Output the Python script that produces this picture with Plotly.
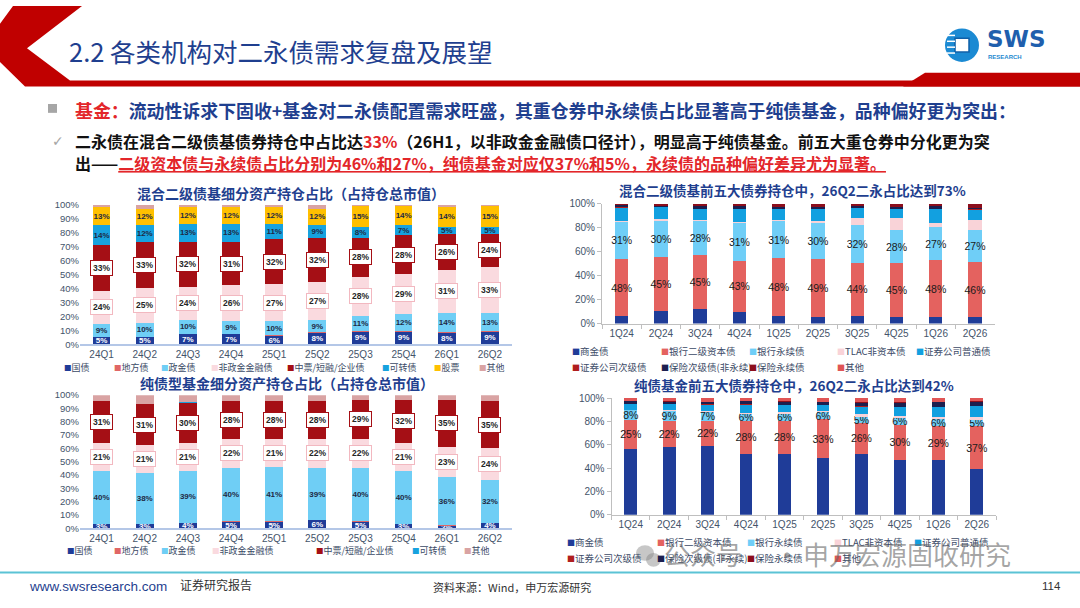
import plotly.graph_objects as go

W, H = 1080, 608
def px(x): return x / W
def py(y): return 1 - y / H

CJK = "Noto Sans CJK SC"
LAT = "Liberation Sans"

# ---------------- data ----------------
quarters_l = ["24Q1", "24Q2", "24Q3", "24Q4", "25Q1", "25Q2", "25Q3", "25Q4", "26Q1", "26Q2"]
quarters_r = ["1Q24", "2Q24", "3Q24", "4Q24", "1Q25", "2Q25", "3Q25", "4Q25", "1Q26", "2Q26"]

# 混合二级债基细分资产持仓占比 (%)
mix_gov    = [5, 5, 7, 7, 6, 8, 9, 9, 8, 9]
mix_local  = [0.4, 0.4, 0.4, 0.4, 0.4, 0.4, 0.4, 0.4, 0.4, 0.4]
mix_policy = [9, 10, 10, 9, 10, 9, 11, 12, 14, 13]
mix_fin    = [24, 25, 24, 26, 27, 27, 28, 29, 31, 33]
mix_corp   = [33, 33, 32, 31, 32, 32, 28, 28, 26, 24]
mix_cb     = [14, 12, 13, 13, 11, 9, 8, 7, 5, 5]
mix_stock  = [13, 12, 12, 12, 12, 12, 15, 14, 14, 15]
mix_other  = [1.6, 2.6, 1.6, 1.6, 1.6, 2.6, 0.6, 0.6, 1.6, 0.6]

# 纯债型基金细分资产持仓占比 (%)
pure_gov    = [3, 3, 4, 5, 5, 6, 5, 3, 2, 4]
pure_local  = [0.3, 0.3, 0.3, 0.3, 0.3, 0.3, 0.3, 0.3, 0.3, 0.3]
pure_policy = [40, 38, 39, 40, 41, 39, 40, 40, 36, 32]
pure_fin    = [21, 21, 21, 22, 21, 22, 22, 21, 23, 24]
pure_corp   = [31, 31, 30, 28, 28, 28, 29, 32, 35, 35]
pure_cb     = [0.3, 0.3, 0.3, 0.3, 0.3, 0.3, 0.3, 0.3, 0.3, 0.3]
pure_other  = [4.4, 6.4, 5.4, 4.4, 4.4, 4.4, 3.4, 3.4, 3.4, 4.4]

# 混合二级债基前五大债券持仓 (%)
mt_comm    = [6.0, 10.9, 12.3, 9.5, 6.5, 5.2, 6.5, 5.2, 5.2, 5.2]
mt_t2      = [48, 45, 45, 43, 48, 49, 44, 45, 48, 46]
mt_perp    = [31, 30, 28, 31, 31, 30, 32, 28, 27, 27]
mt_tlac    = [0.6, 1.0, 1.2, 1.6, 1.2, 1.6, 5.6, 9.8, 4.0, 8.6]
mt_sec     = [11.2, 10.0, 9.0, 10.2, 8.8, 9.8, 8.2, 7.4, 11.3, 8.2]
mt_secsub  = [0.4, 0.3, 0.4, 0.4, 0.4, 0.4, 0.3, 0.3, 0.3, 0.3]
mt_inssub  = [1.5, 1.3, 2.0, 2.1, 1.6, 1.5, 1.4, 1.6, 2.0, 1.0]
mt_insperp = [1.0, 1.2, 1.8, 2.0, 2.0, 2.2, 1.7, 2.4, 2.0, 3.5]
mt_other   = [0.3, 0.3, 0.3, 0.2, 0.5, 0.3, 0.3, 0.3, 0.2, 0.2]

# 纯债基金前五大债券持仓 (%)
pt_comm    = [56.6, 58.0, 58.8, 52.4, 52.4, 48.7, 52.4, 47.3, 46.8, 38.9]
pt_t2      = [25, 22, 22, 28, 28, 33, 26, 30, 29, 37]
pt_perp    = [8, 9, 7, 6, 6, 6, 5, 6, 6, 5]
pt_tlac    = [0.5, 1.0, 0.8, 1.2, 1.5, 1.0, 2.6, 1.3, 2.2, 2.8]
pt_sec     = [4.5, 5.0, 5.7, 6.8, 5.8, 5.3, 6.8, 7.6, 8.2, 9.3]
pt_secsub  = [0.3, 0.3, 0.3, 0.3, 0.3, 0.3, 0.3, 0.3, 0.3, 0.3]
pt_inssub  = [2.3, 1.5, 2.0, 2.4, 2.8, 2.3, 3.0, 3.6, 3.8, 3.5]
pt_insperp = [0.3, 0.3, 0.3, 0.3, 0.3, 0.3, 0.3, 0.3, 0.3, 0.3]
pt_other   = [2.5, 2.9, 3.1, 2.6, 2.9, 3.1, 3.6, 3.6, 3.4, 2.9]

# ---------------- styles ----------------
C_GOV, C_LOCAL, C_POLICY, C_FIN = "#1F3C98", "#E06666", "#6FCEF5", "#FADADF"
C_CORP, C_CB, C_STOCK, C_OTHER_L = "#A50F15", "#17A2DE", "#FFC000", "#D9A3A3"
C_COMM, C_T2, C_PERP, C_TLAC, C_SEC = "#1F3C98", "#E4625F", "#6FCEF7", "#F9D3D8", "#12A0E0"
C_SECSUB, C_INSSUB, C_INSPERP, C_OTHER_R = "#B01E1E", "#1C1F4F", "#8C0E1C", "#E05555"
TICKC = "#44546A"
TITLEC = "#1F3F8F"

fig = go.Figure()
annotations = []

def lbl(v):
    return f"{round(v)}%"

def add_stack(series, xs, axis, width, textsize=8, bold=True, textcolor="#1F2A44"):
    base = [0.0] * len(xs)
    xa, ya = axis
    for name, vals, color, mode in series:
        text = None
        tcolor = textcolor
        if mode in ("plain", "plain_w"):
            text = [lbl(v) for v in vals]
            if mode == "plain_w":
                tcolor = "white"
        tf = dict(size=textsize, color=tcolor, family=LAT)
        if bold:
            tf["weight"] = "bold"
        fig.add_trace(go.Bar(
            x=xs, y=vals, name=name, marker=dict(color=color, line=dict(width=0)),
            width=width, xaxis=xa, yaxis=ya,
            text=text, textposition="inside" if text else "none",
            insidetextanchor="middle", textangle=0, constraintext="none",
            textfont=tf, hoverinfo="skip", showlegend=False,
        ))
        if mode in ("box_pink", "box_red"):
            for i, v in enumerate(vals):
                annotations.append(dict(
                    x=xs[i], y=base[i] + v / 2, xref=xa, yref=ya,
                    text=f"<b>{lbl(v)}</b>", showarrow=False,
                    font=dict(size=8.5, color="#262626", family=LAT),
                    bgcolor="white",
                    bordercolor="#F2B8C0" if mode == "box_pink" else "#A50F15",
                    borderwidth=1, borderpad=2,
                ))
        base = [b + v for b, v in zip(base, vals)]

add_stack([
    ("国债", mix_gov, C_GOV, "plain_w"),
    ("地方债", mix_local, C_LOCAL, None),
    ("政金债", mix_policy, C_POLICY, "plain"),
    ("非政金金融债", mix_fin, C_FIN, "box_pink"),
    ("中票/短融/企业债", mix_corp, C_CORP, "box_red"),
    ("可转债", mix_cb, C_CB, "plain"),
    ("股票", mix_stock, C_STOCK, "plain"),
    ("其他", mix_other, C_OTHER_L, None),
], quarters_l, ("x", "y"), 0.41)

add_stack([
    ("国债", pure_gov, C_GOV, "plain_w"),
    ("地方债", pure_local, C_LOCAL, None),
    ("政金债", pure_policy, C_POLICY, "plain"),
    ("非政金金融债", pure_fin, C_FIN, "box_pink"),
    ("中票/短融/企业债", pure_corp, C_CORP, "box_red"),
    ("可转债", pure_cb, C_CB, None),
    ("其他", pure_other, C_OTHER_L, None),
], quarters_l, ("x2", "y2"), 0.41)

add_stack([
    ("商金债", mt_comm, C_COMM, None),
    ("银行二级资本债", mt_t2, C_T2, "plain"),
    ("银行永续债", mt_perp, C_PERP, "plain"),
    ("TLAC非资本债", mt_tlac, C_TLAC, None),
    ("证券公司普通债", mt_sec, C_SEC, None),
    ("证券公司次级债", mt_secsub, C_SECSUB, None),
    ("保险次级债(非永续)", mt_inssub, C_INSSUB, None),
    ("保险永续债", mt_insperp, C_INSPERP, None),
    ("其他", mt_other, C_OTHER_R, None),
], quarters_r, ("x3", "y3"), 0.34, textsize=10.5, bold=False, textcolor="#1a1a1a")

add_stack([
    ("商金债", pt_comm, C_COMM, None),
    ("银行二级资本债", pt_t2, C_T2, "plain"),
    ("银行永续债", pt_perp, C_PERP, "plain"),
    ("TLAC非资本债", pt_tlac, C_TLAC, None),
    ("证券公司普通债", pt_sec, C_SEC, None),
    ("证券公司次级债", pt_secsub, C_SECSUB, None),
    ("保险次级债(非永续)", pt_inssub, C_INSSUB, None),
    ("保险永续债", pt_insperp, C_INSPERP, None),
    ("其他", pt_other, C_OTHER_R, None),
], quarters_r, ("x4", "y4"), 0.33, textsize=10.5, bold=False, textcolor="#1a1a1a")

# ---------------- axes ----------------
def left_axes(xdom, ydom, anchor_x, anchor_y):
    xa = dict(domain=xdom, anchor=anchor_y, type="category", showline=True,
              linecolor="#B4C7E7", linewidth=1.5, ticks="", showgrid=False,
              tickfont=dict(size=10, color=TICKC, family=LAT), fixedrange=True)
    ya = dict(domain=ydom, anchor=anchor_x, range=[0, 100], dtick=10, ticksuffix="%",
              showgrid=False, zeroline=False, showline=False,
              tickfont=dict(size=9.5, color=TICKC, family=LAT), fixedrange=True)
    return xa, ya

def right_axes(xdom, ydom, anchor_x, anchor_y):
    xa = dict(domain=xdom, anchor=anchor_y, type="category", showline=True,
              linecolor="#BFBFBF", linewidth=1, ticks="outside", tickson="boundaries",
              ticklen=4, tickcolor="#BFBFBF", showgrid=False,
              tickfont=dict(size=10, color=TICKC, family=LAT), fixedrange=True)
    ya = dict(domain=ydom, anchor=anchor_x, range=[0, 100], dtick=20, ticksuffix="%",
              showgrid=False, zeroline=False, showline=True, linecolor="#BFBFBF",
              ticks="outside", ticklen=4, tickcolor="#BFBFBF",
              tickfont=dict(size=10, color=TICKC, family=LAT), fixedrange=True)
    return xa, ya

x1, y1 = left_axes([px(80), px(511.5)], [py(345), py(203)], "x", "y")
x2, y2 = left_axes([px(80), px(511.5)], [py(533), py(397)], "x2", "y2")
x3, y3 = right_axes([px(602), px(994.6)], [py(324), py(201.7)], "x3", "y3")
x4, y4 = right_axes([px(611.5), px(996)], [py(519), py(400)], "x4", "y4")

# ---------------- text ----------------
def txt(x, y, text, size, color="#000", family=CJK, xanchor="left", yanchor="middle", **kw):
    annotations.append(dict(x=px(x), y=py(y), xref="paper", yref="paper", text=text,
                            showarrow=False, xanchor=xanchor, yanchor=yanchor,
                            font=dict(size=size, color=color, family=family), **kw))

txt(67, 45, "2.2 各类机构对二永债需求复盘及展望", 25.5, TITLEC)
txt(985, 34, "<b>SWS</b>", 23, "#1F5FAD", family="DejaVu Sans")
txt(986, 52, "<b>RESEARCH</b>", 6, "#1F8AD0", family=LAT)

txt(73, 106, "<b><span style='color:#E3262A'>基金：</span>流动性诉求下固收+基金对二永债配置需求旺盛，其重仓券中永续债占比显著高于纯债基金，品种偏好更为突出：</b>",
    17.9, "#1F3F8F")
txt(50, 138, "✓", 14, "#A6A6A6", family="DejaVu Sans")
txt(73, 138, "<b>二永债在混合二级债基债券持仓中占比达<span style='color:#E3262A'>33%</span>（26H1，以非政金金融债口径计），明显高于纯债基金。前五大重仓券中分化更为突</b>",
    16, "#111111")
txt(73, 160, "<b>出——<span style='color:#E3262A'><u>二级资本债与永续债占比分别为46%和27%，纯债基金对应仅37%和5%，永续债的品种偏好差异尤为显著。</u></span></b>",
    16, "#111111")

# chart titles
txt(291, 191, "<b>混合二级债基细分资产持仓占比（占持仓总市值）</b>", 14, TITLEC, xanchor="center")
txt(287, 385, "<b>纯债型基金细分资产持仓占比（占持仓总市值）</b>", 14, TITLEC, xanchor="center")
txt(792, 188, "<b>混合二级债基前五大债券持仓中，26Q2二永占比达到73%</b>", 13.5, TITLEC, xanchor="center")
txt(794, 387, "<b>纯债基金前五大债券持仓中，26Q2二永占比达到42%</b>", 13.5, TITLEC, xanchor="center")

# legends (text rows)
def legend_row(items, y, size=9):
    for x, name, color in items:
        txt(x, y, f"<span style='color:{color};font-size:{size-1.5}px'>■</span>{name}", size, "#3B4A66")

legend_row([(62, "国债", C_GOV), (112, "地方债", C_LOCAL), (159, "政金债", C_POLICY),
            (209, "非政金金融债", C_FIN), (285, "中票/短融/企业债", C_CORP), (380, "可转债", C_CB),
            (432, "股票", C_STOCK), (477, "其他", C_OTHER_L)], 369)
legend_row([(65, "国债", C_GOV), (112, "地方债", C_LOCAL), (159, "政金债", C_POLICY),
            (210, "非政金金融债", C_FIN), (314, "中票/短融/企业债", C_CORP), (410, "可转债", C_CB),
            (462, "其他", C_OTHER_L)], 555)
legend_row([(570, "商金债", C_COMM), (659, "银行二级资本债", C_T2), (747, "银行永续债", C_PERP),
            (835, "TLAC非资本债", C_TLAC), (914, "证券公司普通债", C_SEC)], 352, 9.5)
legend_row([(570, "证券公司次级债", C_SECSUB), (659, "保险次级债(非永续)", C_INSSUB),
            (747, "保险永续债", C_INSPERP), (835, "其他", C_OTHER_R)], 368, 9.5)
legend_row([(565, "商金债", C_COMM), (655, "银行二级资本债", C_T2), (745, "银行永续债", C_PERP),
            (832, "TLAC非资本债", C_TLAC), (912, "证券公司普通债", C_SEC)], 547, 9.5)
legend_row([(565, "证券公司次级债", C_SECSUB), (655, "保险次级债(非永续)", C_INSSUB),
            (745, "保险永续债", C_INSPERP), (832, "其他", C_OTHER_R)], 563, 9.5)

# footer
txt(27, 592, "www.swsresearch.com", 13.5, "#1F3F8F", family=LAT)
txt(178, 590, "证券研究报告", 12, "#333333")
txt(431, 593, "资料来源：Wind，申万宏源研究", 11, "#333333")
txt(1063, 592, "114", 11.5, "#333333", family=LAT, xanchor="right")

# watermark
WM = "rgba(105,105,105,0.6)"
txt(662, 559, "公众号", 26, WM)
txt(772, 559, "·", 26, WM)
txt(801, 559, "申万宏源固收研究", 26, WM)

# ---------------- shapes ----------------
def path(points):
    return "M " + " L ".join(f"{px(x):.5f},{py(y):.5f}" for x, y in points) + " Z"

shapes = [
    dict(type="path", xref="paper", yref="paper", fillcolor="#C00000", line=dict(width=0),
         path=path([(13, 0), (82, 0), (27, 43), (70, 76), (1080, 76), (1080, 82), (25, 82), (0, 57), (0, 18)])),
    dict(type="path", xref="paper", yref="paper", fillcolor="#C00000", line=dict(width=0),
         path=path([(903, 82), (925, 68), (1080, 68), (1080, 82)])),
    dict(type="line", xref="paper", yref="paper", x0=0, x1=1, y0=py(578), y1=py(578),
         line=dict(color="#5BC3D5", width=2)),
    dict(type="rect", xref="paper", yref="paper", x0=px(48), x1=px(57), y0=py(109), y1=py(100),
         fillcolor="#A6A6A6", line=dict(width=0)),
    # logo
    dict(type="circle", xref="paper", yref="paper", x0=px(945), x1=px(979), y0=py(57), y1=py(23),
         fillcolor="#1B8AD3", line=dict(width=0)),
    dict(type="rect", xref="paper", yref="paper", x0=px(955), x1=px(969), y0=py(47), y1=py(33),
         fillcolor="white", line=dict(color="#0E5FA8", width=1.5)),
    # wechat icon
    dict(type="circle", xref="paper", yref="paper", x0=px(636), x1=px(654), y0=py(566), y1=py(550),
         fillcolor="rgba(130,130,130,0.45)", line=dict(width=0)),
    dict(type="circle", xref="paper", yref="paper", x0=px(646), x1=px(661), y0=py(572), y1=py(558),
         fillcolor="rgba(130,130,130,0.45)", line=dict(width=0)),
]
for yy in (30, 36, 42, 48):
    shapes.append(dict(type="line", xref="paper", yref="paper", x0=px(947), x1=px(955),
                       y0=py(yy), y1=py(yy), line=dict(color="white", width=1.5)))

fig.update_layout(
    width=W, height=H, margin=dict(l=0, r=0, t=0, b=0),
    paper_bgcolor="white", plot_bgcolor="rgba(0,0,0,0)",
    barmode="stack", showlegend=False,
    xaxis=x1, yaxis=y1, xaxis2=x2, yaxis2=y2, xaxis3=x3, yaxis3=y3, xaxis4=x4, yaxis4=y4,
    annotations=annotations, shapes=shapes,
    font=dict(family=CJK),
)

fig.write_html("out.html", config={"displayModeBar": False, "staticPlot": True},
               post_script="document.body.style.margin='0';document.body.style.overflow='hidden';")
